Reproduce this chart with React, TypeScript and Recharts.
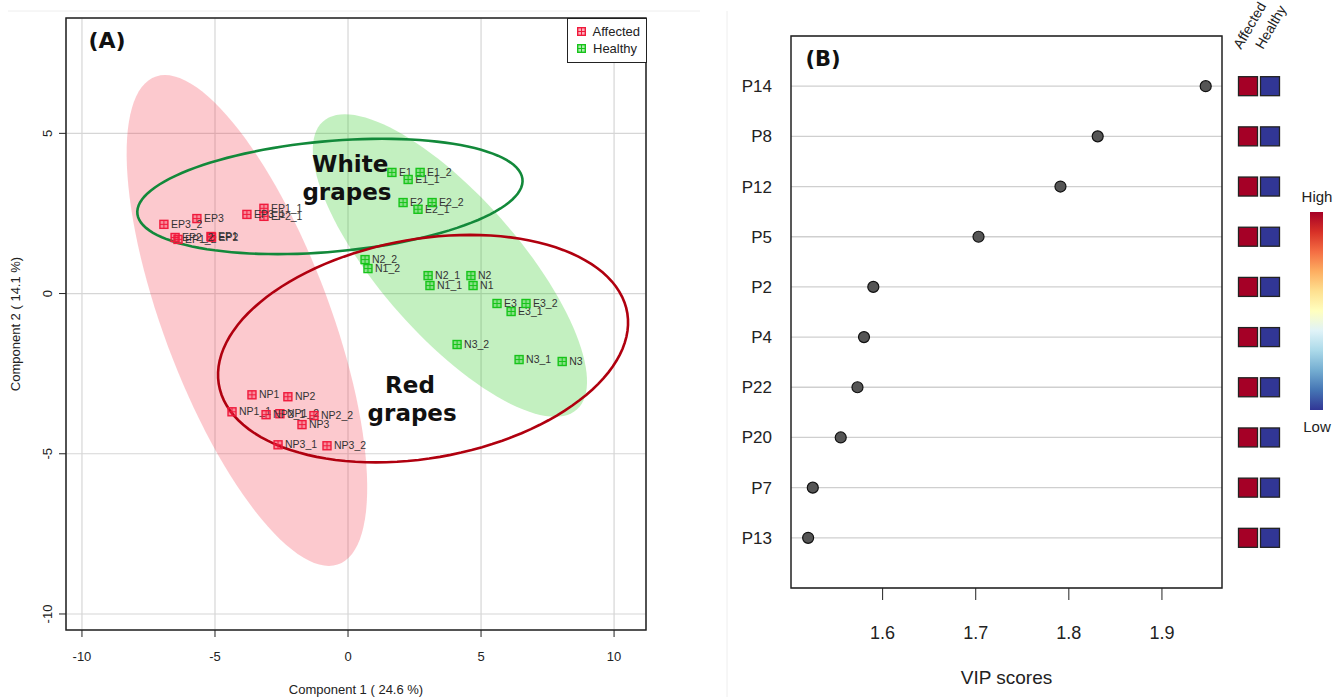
import React from "react";
import {
  ScatterChart,
  Scatter,
  XAxis,
  YAxis,
  CartesianGrid,
  ReferenceArea,
  ReferenceDot,
  Legend,
  Label,
} from "recharts";

const FONT = "'Liberation Sans', Arial, sans-serif";
const BOLD_FONT = "'DejaVu Sans', sans-serif";
const RED = "#F01A3C";
const GREEN = "#17C41A";

// ---- (A) sample plot, component 1 vs component 2 ----
const affectedNames = ["EP1", "EP1_1", "EP1_2", "EP2", "EP2_1", "EP2_2", "EP3", "EP3_1", "EP3_2",
  "NP1", "NP1_1", "NP1_2", "NP2", "NP2_1", "NP2_2", "NP3", "NP3_1", "NP3_2"];
const affectedX = [-5.15, -3.16, -6.39, -5.13, -3.16, -6.5, -5.68, -3.8, -6.92,
  -3.61, -4.36, -2.56, -2.26, -3.08, -1.28, -1.73, -2.63, -0.79];
const affectedY = [1.78, 2.66, 1.69, 1.76, 2.41, 1.75, 2.34, 2.47, 2.16,
  -3.16, -3.69, -3.75, -3.22, -3.78, -3.81, -4.09, -4.72, -4.75];

const healthyNames = ["E1", "E1_1", "E1_2", "E2", "E2_1", "E2_2", "E3", "E3_1", "E3_2",
  "N1", "N1_1", "N1_2", "N2", "N2_1", "N2_2", "N3", "N3_1", "N3_2"];
const healthyX = [1.65, 2.26, 2.71, 2.07, 2.63, 3.16, 5.6, 6.13, 6.69,
  4.7, 3.08, 0.75, 4.62, 3.01, 0.64, 8.05, 6.43, 4.1];
const healthyY = [3.78, 3.56, 3.78, 2.84, 2.63, 2.84, -0.31, -0.56, -0.31,
  0.25, 0.25, 0.78, 0.56, 0.56, 1.06, -2.12, -2.06, -1.59];

const xTicksA = [-10, -5, 0, 5, 10];
const yTicksA = [-10, -5, 0, 5];
const xDomainA = [-10.6, 11.2];
const yDomainA = [-10.5, 8.6];

// ellipses: centre + two conjugate semi-axes (data units)
const affectedEllipse = { c: [-3.8, -0.84], u: [3.08, -7.66], v: [3.31, 0] };
const healthyEllipse = { c: [3.83, 0.875], u: [3.95, -4.72], v: [3.31, 0] };
const whiteRing = { c: [-0.68, 3.03], u: [-1.96, -1.8], v: [6.97, 0] };
const redRing = { c: [2.82, -1.72], u: [-1.77, -3.55], v: [7.5, 0] };

// ---- (B) VIP scores ----
const vipFeatures = ["P14", "P8", "P12", "P5", "P2", "P4", "P22", "P20", "P7", "P13"];
const vipScores = [1.947, 1.831, 1.791, 1.703, 1.59, 1.58, 1.573, 1.555, 1.525, 1.52];
const vipTicks = [1.6, 1.7, 1.8, 1.9];
const vipDomain = [1.5016, 1.9645];
const heatColumns = ["Affected", "Healthy"];
const affectedLevel = ["High", "High", "High", "High", "High", "High", "High", "High", "High", "High"];
const healthyLevel = ["Low", "Low", "Low", "Low", "Low", "Low", "Low", "Low", "Low", "Low"];
const levelColor: Record<string, string> = { High: "#A50026", Low: "#313695" };
const rdylbu = ["#A50026", "#D73027", "#F46D43", "#FDAE61", "#FEE090", "#FFFFBF",
  "#E0F3F8", "#ABD9E9", "#74ADD1", "#4575B4", "#313695"];

const toPoints = (names: string[], xs: number[], ys: number[]) =>
  names.map((name, i) => ({ name, x: xs[i], y: ys[i] }));

const outline = (e: { c: number[]; u: number[]; v: number[] }) =>
  Array.from({ length: 121 }, (_, i) => {
    const t = (i / 120) * Math.PI * 2;
    return {
      x: e.c[0] + e.u[0] * Math.cos(t) + e.v[0] * Math.sin(t),
      y: e.c[1] + e.u[1] * Math.cos(t) + e.v[1] * Math.sin(t),
    };
  });

const ellipseLine = (fill: string, stroke: string, width: number) => (p: any) => {
  const pts = p.points || [];
  const d = pts.map((q: any, i: number) => `${i ? "L" : "M"}${q.x},${q.y}`).join("") + "Z";
  return <path d={d} fill={fill} stroke={stroke} strokeWidth={width} />;
};

const noDot = () => <g />;

const sampleMarker = (color: string) => (props: any) => {
  const { cx, cy, payload } = props;
  if (cx == null || cy == null) return <g />;
  const h = 4;
  return (
    <g>
      <rect x={cx - h} y={cy - h} width={2 * h} height={2 * h} fill={color} fillOpacity={0.35} stroke={color} strokeWidth={1.4} />
      <line x1={cx - h} x2={cx + h} y1={cy} y2={cy} stroke={color} strokeWidth={1} />
      <line x1={cx} x2={cx} y1={cy - h} y2={cy + h} stroke={color} strokeWidth={1} />
      <text x={cx + 7} y={cy} dy="0.35em" fontSize={10.5} fill="#333" fontFamily={FONT}>
        {payload.name}
      </text>
    </g>
  );
};

const RotatedTick = (props: any) => {
  const { x, y, payload } = props;
  return (
    <text x={x} y={y} transform={`rotate(-90 ${x} ${y})`} textAnchor="middle" fontSize={13} fill="#222" fontFamily={FONT}>
      {payload.value}
    </text>
  );
};

const groupNames = ["Affected", "Healthy"];

const legendBox = (props: any) => (
  <div style={{ border: "1px solid #222", background: "#fff", padding: "4px 6px 5px 9px", fontFamily: FONT, fontSize: 13, lineHeight: "17px", color: "#222" }}>
    {(props.payload || [])
      .filter((e: any) => groupNames.includes(e.value))
      .map((e: any) => (
        <div key={e.value} style={{ display: "flex", alignItems: "center" }}>
          <svg width={9} height={9} style={{ marginRight: 7 }}>
            <rect x={0.7} y={0.7} width={7.6} height={7.6} fill={e.color} fillOpacity={0.35} stroke={e.color} strokeWidth={1.4} />
            <line x1={0} x2={9} y1={4.5} y2={4.5} stroke={e.color} strokeWidth={1} />
            <line x1={4.5} x2={4.5} y1={0} y2={9} stroke={e.color} strokeWidth={1} />
          </svg>
          <span>{e.value}</span>
        </div>
      ))}
  </div>
);

const groupLabel = (value: string) => ({
  value,
  position: "center" as const,
  fontSize: 23,
  fontWeight: 700,
  fill: "#111",
  fontFamily: BOLD_FONT,
});

function PanelA() {
  return (
    <ScatterChart width={680} height={697} margin={{ top: 18, right: 34, bottom: 0, left: 0 }}>
      <CartesianGrid stroke="#d6d6d6" strokeWidth={1.2} />
      <XAxis type="number" dataKey="x" domain={xDomainA} ticks={xTicksA} allowDataOverflow height={67}
        axisLine={false} tickLine={{ stroke: "#222" }} tickSize={7} tickMargin={15}
        tick={{ fontSize: 13, fill: "#222", fontFamily: FONT }}>
        <Label value="Component 1 ( 24.6 %)" position="insideBottom" offset={3} fontSize={13} fill="#222" fontFamily={FONT} />
      </XAxis>
      <YAxis type="number" dataKey="y" domain={yDomainA} ticks={yTicksA} allowDataOverflow width={66}
        axisLine={false} tickLine={{ stroke: "#222" }} tickSize={7} tickMargin={7} tick={<RotatedTick />}>
        <Label
          content={(p: any) => {
            const vb = p.viewBox;
            const x = vb.x + 20;
            const y = vb.y + vb.height / 2;
            return (
              <text x={x} y={y} transform={`rotate(-90 ${x} ${y})`} textAnchor="middle" fontSize={13} fill="#222" fontFamily={FONT}>
                Component 2 ( 14.1 %)
              </text>
            );
          }}
        />
      </YAxis>
      <Scatter data={outline(affectedEllipse)} line={ellipseLine("rgba(245,60,80,0.28)", "none", 0)} lineType="joint"
        shape={noDot} legendType="none" isAnimationActive={false} />
      <Scatter data={outline(healthyEllipse)} line={ellipseLine("rgba(40,200,30,0.28)", "none", 0)} lineType="joint"
        shape={noDot} legendType="none" isAnimationActive={false} />
      <Scatter data={outline(whiteRing)} line={ellipseLine("none", "#12893A", 2.6)} lineType="joint"
        shape={noDot} legendType="none" isAnimationActive={false} />
      <Scatter data={outline(redRing)} line={ellipseLine("none", "#B0000F", 2.6)} lineType="joint"
        shape={noDot} legendType="none" isAnimationActive={false} />
      <Scatter name="Affected" data={toPoints(affectedNames, affectedX, affectedY)} fill={RED}
        shape={sampleMarker(RED)} isAnimationActive={false} />
      <Scatter name="Healthy" data={toPoints(healthyNames, healthyX, healthyY)} fill={GREEN}
        shape={sampleMarker(GREEN)} isAnimationActive={false} />
      <ReferenceDot x={0.08} y={4.06} r={0} fill="none" stroke="none" label={groupLabel("White")} />
      <ReferenceDot x={-0.04} y={3.16} r={0} fill="none" stroke="none" label={groupLabel("grapes")} />
      <ReferenceDot x={2.33} y={-2.84} r={0} fill="none" stroke="none" label={groupLabel("Red")} />
      <ReferenceDot x={2.41} y={-3.72} r={0} fill="none" stroke="none" label={groupLabel("grapes")} />
      <ReferenceArea x1={xDomainA[0]} x2={xDomainA[1]} y1={yDomainA[0]} y2={yDomainA[1]} fill="none" stroke="#222" strokeWidth={1.5} />
      <Legend layout="vertical" align="center" verticalAlign="middle" content={legendBox}
        wrapperStyle={{ left: 567, top: 18, width: 80, height: 46 }} />
    </ScatterChart>
  );
}

function PanelB() {
  const data = vipFeatures.map((name, i) => ({ name, x: vipScores[i], y: i + 1 }));
  return (
    <ScatterChart width={496} height={697} margin={{ top: 36, right: 4, bottom: 0, left: 0 }}>
      <CartesianGrid vertical={false} stroke="#cfcfcf" strokeWidth={1.3} />
      <XAxis type="number" dataKey="x" domain={vipDomain} ticks={vipTicks} allowDataOverflow height={109}
        axisLine={false} tickLine={{ stroke: "#222" }} tickSize={12} tickMargin={26}
        tickFormatter={(v: number) => v.toFixed(1)} tick={{ fontSize: 18, fill: "#222", fontFamily: FONT }}>
        <Label value="VIP scores" position="insideBottom" offset={13} fontSize={19} fill="#222" fontFamily={FONT} />
      </XAxis>
      <YAxis type="number" dataKey="y" domain={[0, 11]} reversed ticks={[1, 2, 3, 4, 5, 6, 7, 8, 9, 10]} allowDataOverflow
        width={61} axisLine={false} tickLine={false} tickMargin={13}
        tickFormatter={(v: number) => vipFeatures[v - 1]} tick={{ fontSize: 17, fill: "#222", fontFamily: FONT }} />
      <ReferenceArea x1={vipDomain[0]} x2={vipDomain[1]} y1={0} y2={11} fill="none" stroke="#222" strokeWidth={1.5} />
      <Scatter data={data} isAnimationActive={false}
        shape={(p: any) => <circle cx={p.cx} cy={p.cy} r={5.5} fill="#555" stroke="#111" strokeWidth={1.2} />} />
    </ScatterChart>
  );
}

function HeatColumns() {
  const cells = [
    ...affectedLevel.map((level, i) => ({ x: 1, y: i + 1, level })),
    ...healthyLevel.map((level, i) => ({ x: 2, y: i + 1, level })),
  ];
  return (
    <ScatterChart width={80} height={697} margin={{ top: 0, right: 14, bottom: 109, left: 0 }} style={{ overflow: "visible" }}>
      <XAxis type="number" dataKey="x" orientation="top" domain={[0, 3]} ticks={[1, 2]} height={36}
        axisLine={false} tickLine={false}
        tick={(p: any) => {
          const x = p.x - 7;
          const y = 50;
          return (
            <text x={x} y={y} transform={`rotate(-60 ${x} ${y})`} fontSize={14} fill="#222" fontFamily={FONT}>
              {heatColumns[p.payload.value - 1]}
            </text>
          );
        }} />
      <YAxis type="number" dataKey="y" domain={[0, 11]} reversed hide />
      <Scatter data={cells} isAnimationActive={false}
        shape={(p: any) => (
          <rect x={p.cx - 9.5} y={p.cy - 9.5} width={19} height={19} fill={levelColor[p.payload.level]} stroke="#222" strokeWidth={1.3} />
        )} />
    </ScatterChart>
  );
}

export default function App() {
  return (
    <div style={{ position: "absolute", left: 0, top: 0, width: 1333, height: 697, background: "#fff", overflow: "hidden" }}>
      <div style={{ position: "absolute", left: 0, top: 0 }}>
        <PanelA />
      </div>
      <div style={{ position: "absolute", left: 730, top: 0 }}>
        <PanelB />
      </div>
      <div style={{ position: "absolute", left: 1226, top: 0 }}>
        <HeatColumns />
      </div>
      <svg width={1333} height={697} style={{ position: "absolute", left: 0, top: 0, pointerEvents: "none" }}>
        <defs>
          <linearGradient id="rdylbu" x1="0" y1="0" x2="0" y2="1">
            {rdylbu.map((c, i) => (
              <stop key={c} offset={i / (rdylbu.length - 1)} stopColor={c} />
            ))}
          </linearGradient>
        </defs>
        <line x1={8} x2={700} y1={11} y2={11} stroke="#eeeeee" />
        <line x1={727} x2={727} y1={11} y2={697} stroke="#eeeeee" />
        <text x={107} y={48} textAnchor="middle" fontSize={22} fontWeight={700} fontFamily={BOLD_FONT} fill="#111">(A)</text>
        <text x={823} y={66} textAnchor="middle" fontSize={21} fontWeight={700} fontFamily={BOLD_FONT} fill="#111">(B)</text>
        <text x={1317} y={202} textAnchor="middle" fontSize={15} fontFamily={FONT} fill="#222">High</text>
        <rect x={1310} y={212} width={13} height={198} fill="url(#rdylbu)" />
        <text x={1317} y={432} textAnchor="middle" fontSize={15} fontFamily={FONT} fill="#222">Low</text>
      </svg>
    </div>
  );
}
